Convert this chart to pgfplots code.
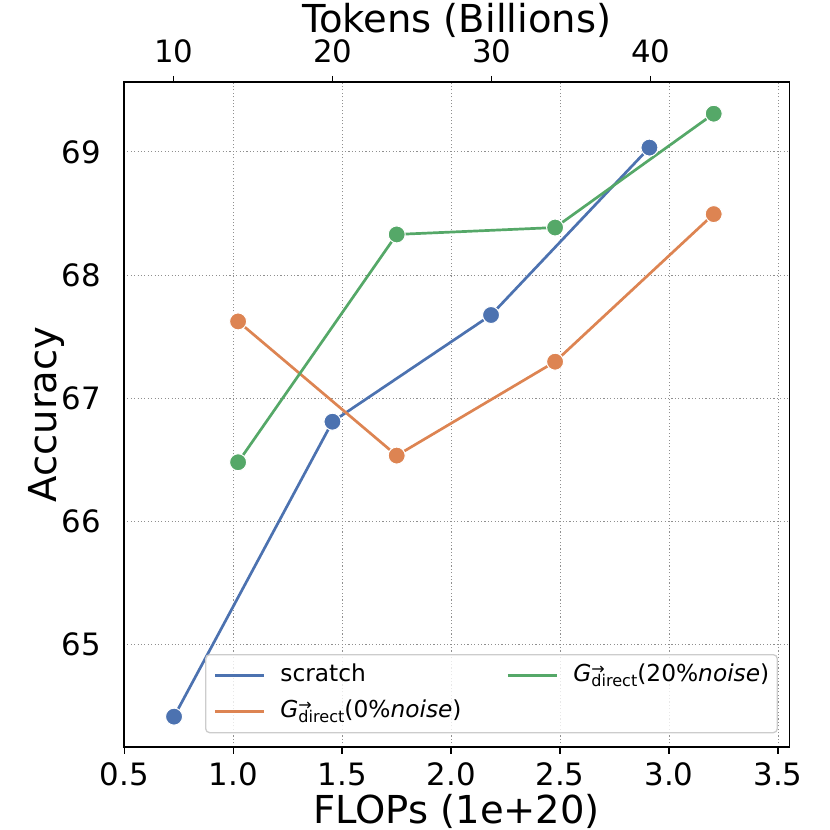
\documentclass[border=0pt]{standalone}
\usepackage{fontspec}
\setmainfont{DejaVu Sans}
\usepackage{pgfplots}
\pgfplotsset{compat=1.18}
\definecolor{cblue}{HTML}{4C72B0}
\definecolor{corange}{HTML}{DD8452}
\definecolor{cgreen}{HTML}{55A868}
\definecolor{gridc}{HTML}{8F8F8F}
\newcommand{\Gdir}{{\itshape G}\rlap{\raisebox{7.5pt}{\fontsize{16}{16}\selectfont →}}\raisebox{-5pt}{\fontsize{16.1}{16}\selectfont direct}}
\begin{document}
\begin{tikzpicture}
\useasboundingbox (-124pt,-83.3pt) rectangle (706pt,746.7pt);
\begin{axis}[
  at={(0pt,0pt)}, anchor=south west,
  scale only axis, width=665.3pt, height=664.4pt,
  xmin=0.4983, xmax=3.552, ymin=64.172, ymax=69.565,
  xtick={0.5,1.0,1.5,2.0,2.5,3.0,3.5},
  xticklabels={0.5,1.0,1.5,2.0,2.5,3.0,3.5},
  ytick={65,66,67,68,69},
  yticklabels={65,66,67,68,69},
  xtick pos=left, ytick pos=left,
  tick align=outside, major tick length=7pt,
  tick style={black, line width=1.5pt},
  ytick style={draw=none},
  axis line style={line width=1.6pt},
  grid=major,
  major grid style={gridc, line width=0.9pt, dash pattern=on 1.1pt off 2.3pt},
  xticklabel style={font=\fontsize{30.8}{36}\selectfont, inner sep=0pt, anchor=north, yshift=-9pt},
  yticklabel style={font=\fontsize{30.8}{36}\selectfont, inner sep=0pt, anchor=east, xshift=-15.7pt},
  xlabel={FLOPs (1e+20)},
  ylabel={Accuracy},
  xlabel style={font=\fontsize{38.5}{44}\selectfont, at={(axis description cs:0.5,0)}, anchor=base, yshift=-76.8pt, inner sep=0pt},
  ylabel style={font=\fontsize{38.5}{44}\selectfont, at={(axis description cs:-0.10116,0.5)}, anchor=base, inner sep=0pt},
  legend columns=2,
  legend cell align=left,
  legend style={at={(0.1218,0.1395)}, anchor=north west,
    draw=black!20, line width=1.3pt, rounded corners=4pt,
    fill=white, fill opacity=0.8, text opacity=1, draw opacity=1,
    inner xsep=8pt, inner ysep=7pt, row sep=8pt,
    font=\fontsize{23.3}{28}\selectfont,
    nodes={inner sep=0pt, text height=20pt, text depth=8pt, anchor=west},
    /tikz/every odd column/.append style={column sep=15pt},
    /tikz/every even column/.append style={column sep=45pt}},
]
\addplot[forget plot, color=cblue, line width=2.7pt, mark=*, mark size=8.5pt, mark options={fill=cblue, draw=white, line width=1pt}]
  coordinates {(0.728,64.416) (1.455,66.81) (2.183,67.676) (2.910,69.035)};
\addplot[forget plot, color=corange, line width=2.7pt, mark=*, mark size=8.5pt, mark options={fill=corange, draw=white, line width=1pt}]
  coordinates {(1.022,67.624) (1.750,66.535) (2.477,67.297) (3.205,68.495)};
\addplot[forget plot, color=cgreen, line width=2.7pt, mark=*, mark size=8.5pt, mark options={fill=cgreen, draw=white, line width=1pt}]
  coordinates {(1.022,66.481) (1.750,68.33) (2.477,68.386) (3.205,69.31)};
\addlegendimage{legend image code/.code={\draw[cblue, line width=2.7pt] (0pt,0pt) -- (49pt,0pt);}}
\addlegendentry{scratch}
\addlegendimage{legend image code/.code={\draw[cgreen, line width=2.7pt] (0pt,0pt) -- (49pt,0pt);}}
\addlegendentry{\Gdir(20\%{\itshape noise})}
\addlegendimage{legend image code/.code={\draw[corange, line width=2.7pt] (0pt,0pt) -- (49pt,0pt);}}
\addlegendentry{\Gdir(0\%{\itshape noise})}
\end{axis}
\begin{axis}[
  at={(0pt,0pt)}, anchor=south west,
  scale only axis, width=665.3pt, height=664.4pt,
  xmin=6.874, xmax=48.72, ymin=0, ymax=1,
  axis x line*=top, axis y line=none,
  xtick={10,20,30,40}, xticklabels={10,20,30,40},
  tick align=outside, major tick length=6.5pt,
  tick style={black, line width=1.5pt},
  axis line style={line width=1.6pt},
  xticklabel style={font=\fontsize{30.8}{36}\selectfont, inner sep=0pt, anchor=south, yshift=12.7pt},
  xlabel={Tokens (Billions)},
  xlabel style={font=\fontsize{38.5}{44}\selectfont, at={(axis description cs:0.5,1)}, anchor=base, yshift=50pt, inner sep=0pt},
]
\end{axis}
\end{tikzpicture}
\end{document}
